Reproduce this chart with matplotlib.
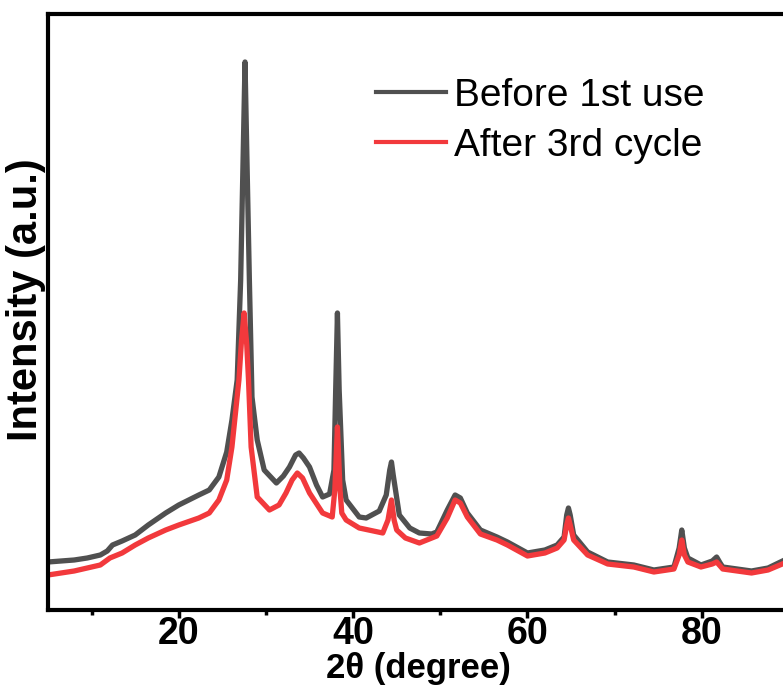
import matplotlib
matplotlib.use("Agg")
import matplotlib.pyplot as plt
from matplotlib.ticker import MultipleLocator

plt.rcParams['font.family'] = ['Liberation Sans', 'DejaVu Sans']

# 2theta positions
x_before = [5.0, 6.5, 8.0, 9.5, 11.0, 11.8, 12.4, 13.5, 15.0, 16.5, 18.5, 20.0, 22.3, 23.5, 24.6,
            25.5, 26.1, 26.7, 27.1, 27.4, 27.6, 27.8, 28.1, 28.4, 29.0, 29.8, 31.2, 32.0, 32.7,
            33.4, 33.8, 34.3, 35.0, 35.8, 36.5, 37.3, 37.8, 38.0, 38.2, 38.4, 38.8, 39.2, 40.7,
            41.5, 43.0, 43.8, 44.2, 44.4, 44.6, 45.3, 46.5, 47.6, 49.0, 49.6, 50.8, 51.7, 52.3,
            53.1, 54.6, 56.5, 57.7, 60.0, 62.0, 63.4, 64.2, 64.5, 64.7, 64.9, 65.3, 66.9, 69.2,
            72.2, 74.5, 76.8, 77.4, 77.7, 78.0, 78.4, 79.9, 81.2, 81.7, 82.1, 82.4, 85.7, 87.6,
            89.5, 90.0]
y_before = [48, 49, 50, 52, 55, 59, 65, 69, 75, 85, 97, 105, 115, 120, 133,
            158, 190, 230, 330, 460, 548, 460, 330, 213, 170, 140, 127, 134, 143,
            155, 157, 152, 143, 125, 113, 116, 140, 220, 297, 220, 130, 110, 93,
            92, 99, 115, 140, 148, 135, 95, 82, 77, 76, 78, 100, 115, 112,
            97, 80, 73, 68, 57, 60, 65, 73, 95, 102, 95, 75, 58, 48,
            45, 40, 43, 62, 80, 62, 52, 45, 49, 53, 47, 43, 39, 42,
            50, 53]

x_after = [5.0, 6.5, 8.0, 9.5, 11.0, 12.1, 13.5, 15.0, 16.5, 18.5, 20.0, 22.3, 23.5, 24.6,
           25.5, 26.1, 26.9, 27.2, 27.5, 27.8, 28.0, 28.3, 29.0, 30.4, 31.5, 32.3, 33.0, 33.6,
           34.2, 35.0, 36.5, 37.6, 37.9, 38.2, 38.5, 38.7, 39.2, 40.7, 43.4, 44.0, 44.4, 44.7,
           45.0, 46.0, 47.6, 49.6, 50.8, 51.7, 52.3, 53.1, 54.6, 56.5, 57.7, 60.0, 62.0, 63.4,
           64.2, 64.5, 64.7, 64.9, 65.3, 66.9, 69.2, 72.2, 74.5, 76.8, 77.4, 77.7, 78.0, 78.4,
           79.9, 81.2, 81.7, 82.1, 82.4, 85.7, 87.6, 89.5, 90.0]
y_after = [35, 37, 39, 42, 45, 52, 57, 65, 72, 80, 85, 92, 97, 110,
           130, 163, 230, 270, 297, 265, 230, 163, 113, 100, 105, 117, 130, 137,
           132, 117, 97, 93, 120, 183, 120, 97, 90, 82, 77, 90, 110, 90,
           80, 72, 67, 74, 92, 110, 107, 93, 76, 70, 65, 54, 57, 62,
           70, 85, 92, 85, 70, 55, 46, 43, 38, 41, 55, 70, 55, 48,
           43, 46, 48, 44, 41, 37, 40, 47, 50]

labels = ["Before 1st use", "After 3rd cycle"]

fig = plt.figure(figsize=(7.83, 7.00), dpi=100)
ax = fig.add_axes([48 / 783, 90 / 700, 741 / 783, 596 / 700])

ax.plot(x_before, y_before, color="#505050", lw=3.8, solid_joinstyle="round", label=labels[0])
ax.plot(x_after, y_after, color="#f2393c", lw=3.8, solid_joinstyle="round", label=labels[1])

ax.set_xlim(5, 90)
ax.set_ylim(0, 596)

for s in ax.spines.values():
    s.set_linewidth(3)

ax.xaxis.set_major_locator(MultipleLocator(20))
ax.xaxis.set_minor_locator(MultipleLocator(10))
ax.tick_params(axis="x", which="major", direction="out", length=6, width=2.5, labelsize=27, pad=-2)
ax.tick_params(axis="x", which="minor", direction="out", length=3.5, width=2.5)
for t in ax.get_xticklabels():
    t.set_fontweight("bold")
ax.set_yticks([])

ax.set_xlabel("2θ (degree)", fontsize=25, fontweight="bold", labelpad=0)
ax.set_ylabel("Intensity (a.u.)", fontsize=30, fontweight="bold")
ax.yaxis.set_label_coords(-0.003, 0.52)

leg = ax.legend(loc="upper left", bbox_to_anchor=(0.443, 0.893), frameon=False, fontsize=28,
                handlelength=1.8, handletextpad=0.2, labelspacing=0.36, borderpad=0,
                borderaxespad=0)
for h in leg.get_lines():
    h.set_linewidth(3)

fig.savefig("out.png", dpi=100)
